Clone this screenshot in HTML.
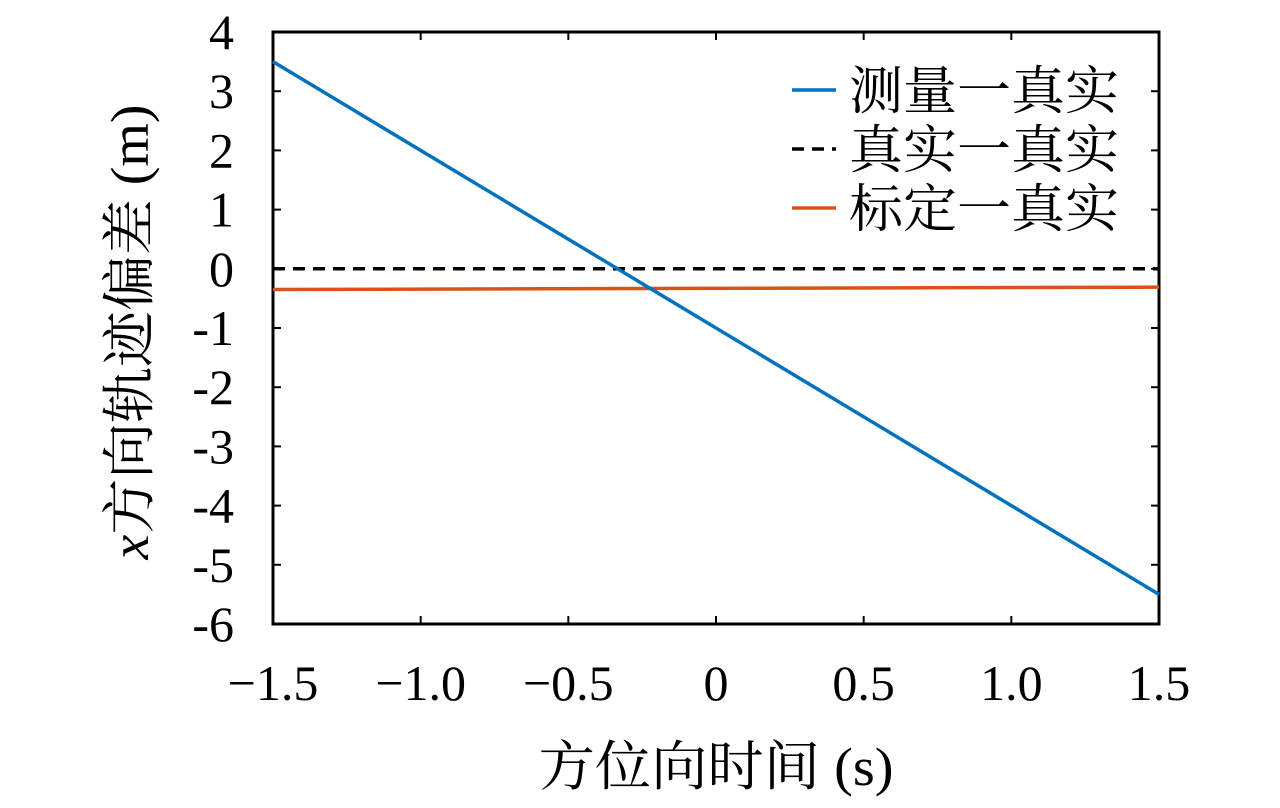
<!DOCTYPE html>
<html><head><meta charset="utf-8"><style>
body{margin:0;background:#fff;}
svg text{font-family:"Liberation Serif","Noto Serif CJK SC",serif;fill:#000;}
</style></head><body>
<svg id="chart" width="1280" height="803" xmlns="http://www.w3.org/2000/svg"></svg>
<script>
const xTicks=[-1.5,-1.0,-0.5,0,0.5,1.0,1.5];
const xTickLabels=["\u22121.5","\u22121.0","\u22120.5","0","0.5","1.0","1.5"];
const yTicks=[4,3,2,1,0,-1,-2,-3,-4,-5,-6];
const yTickLabels=["4","3","2","1","0","-1","-2","-3","-4","-5","-6"];
const seriesNames=["测量一真实","真实一真实","标定一真实"];
const measX=[-1.5,1.5];
const measY=[3.5,-5.5];
const trueX=[-1.5,1.5];
const trueY=[0,0];
const calX=[-1.5,1.5];
const calY=[-0.35,-0.31];

const svg=document.getElementById('chart');
const NS='http://www.w3.org/2000/svg';
const L=273,R=1159,T=32,B=624;
const sx=v=>L+(v+1.5)/3*(R-L);
const sy=v=>T+(4-v)/10*(B-T);
function mk(tag,attrs,parent){const e=document.createElementNS(NS,tag);for(const k in attrs)e.setAttribute(k,attrs[k]);(parent||svg).appendChild(e);return e;}

const frame=mk('rect',{x:L,y:T,width:R-L,height:B-T,fill:'none',stroke:'#000','stroke-width':3});



xTicks.forEach((v,i)=>{
  const x=sx(v);
  const t=mk('line',{x1:x,x2:x,y1:B,y2:B-8,stroke:'#000','stroke-width':2});
  
  
  const t2=mk('line',{x1:x,x2:x,y1:T,y2:T+8,stroke:'#000','stroke-width':2});
  
  
  const lb=mk('text',{x:x,y:700,'text-anchor':'middle','font-size':50});
  lb.textContent=xTickLabels[i];
  
  
});
yTicks.forEach((v,i)=>{
  const y=sy(v);
  const t=mk('line',{x1:L,x2:L+8,y1:y,y2:y,stroke:'#000','stroke-width':2});
  
  
  const t2=mk('line',{x1:R,x2:R-8,y1:y,y2:y,stroke:'#000','stroke-width':2});
  
  
  const lb=mk('text',{x:234,y:y+17,'text-anchor':'end','font-size':50});
  lb.textContent=yTickLabels[i];
  
  
});

function line(xs,ys,color,dash,name){
  const pts=xs.map((x,i)=>sx(x)+','+sy(ys[i])).join(' ');
  const p=mk('polyline',{points:pts,fill:'none',stroke:color,'stroke-width':3.5});
  if(dash)p.setAttribute('stroke-dasharray',dash);
  
  
}
line(trueX,trueY,'#000','12 8','true-line');
line(calX,calY,'#d95319',null,'calibrated-line');
line(measX,measY,'#0072bd',null,'measured-line');

const legColors=['#0072bd','#000','#d95319'];
const legDash=[null,'12 8',null];
seriesNames.forEach((n,i)=>{
  const y=90+i*59;
  const g=mk('g',{});
  
  
  const l=mk('line',{x1:792,x2:836,y1:y,y2:y,stroke:legColors[i],'stroke-width':3.5},g);
  if(legDash[i])l.setAttribute('stroke-dasharray',legDash[i]);
  const t=mk('text',{x:849,y:y+19,'font-size':52,textLength:270,lengthAdjust:'spacingAndGlyphs'},g);
  t.textContent=n;
});

const xl=mk('text',{x:716,y:785,'text-anchor':'middle','font-size':54,textLength:355,lengthAdjust:'spacingAndGlyphs'});
xl.textContent='方位向时间 (s)';


const yl=mk('text',{x:0,y:0,'text-anchor':'middle','font-size':54,transform:'translate(148,332) rotate(-90)',textLength:455,lengthAdjust:'spacingAndGlyphs'});
yl.innerHTML='<tspan font-style="italic">x</tspan>方向轨迹偏差 (m)';


</script>
</body></html>
